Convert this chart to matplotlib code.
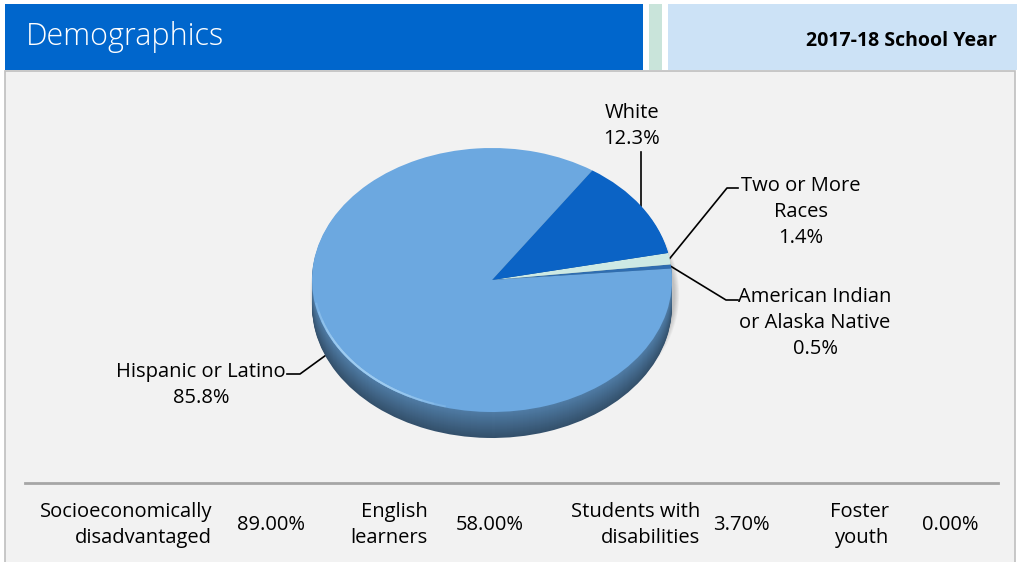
import numpy as np
import matplotlib
matplotlib.use('Agg')
from matplotlib import pyplot as plt
from matplotlib.patches import Rectangle, Ellipse, Arc
from matplotlib.colors import to_rgb

plt.rcParams['font.family'] = ['Open Sans', 'DejaVu Sans']

# data
categories = ['American Indian\nor Alaska Native', 'Two or More\nRaces', 'White', 'Hispanic or Latino']
values = [0.5, 1.4, 12.3, 85.8]
colours = ['#2F6DB0', '#CDE9E4', '#0B63C5', '#6CA8E0']
stat_labels = ['Socioeconomically\ndisadvantaged', 'English\nlearners', 'Students with\ndisabilities', 'Foster\nyouth']
stat_values = [89.00, 58.00, 3.70, 0.00]
title = 'Demographics'
year = '2017-18 School Year'

W, H = 1017, 562
fig = plt.figure(figsize=(W/100, H/100), dpi=100)
fig.patch.set_facecolor('white')

# background axes in pixel units
bg = fig.add_axes([0, 0, 1, 1])
bg.set_xlim(0, W)
bg.set_ylim(H, 0)
bg.axis('off')

bg.add_patch(Rectangle((5, 71), 1010, 500, facecolor='#F2F2F2', edgecolor='#BFBFBF', lw=1.2))
bg.add_patch(Rectangle((5, 4), 638, 66, facecolor='#0066CC', lw=0))
bg.add_patch(Rectangle((649, 4), 13, 66, facecolor='#C9E4DA', lw=0))
bg.add_patch(Rectangle((668, 4), 349, 66, facecolor='#CCE2F6', lw=0))
bg.text(26, 37, title, color='white', fontsize=22, fontweight='light', va='center', ha='left')
bg.text(997, 41, year, color='black', fontsize=14, fontweight='bold', va='center', ha='right')
bg.plot([25, 998], [483, 483], color='#A6A6A6', lw=2)

# bottom stats row
lab_right = [212, 428, 700, 889]
val_center = [271, 490, 741, 950]
for lab, v, xr, xc in zip(stat_labels, stat_values, lab_right, val_center):
    bg.text(xr, 525, lab, ha='right', va='center', multialignment='right', fontsize=14.5, linespacing=1.35)
    bg.text(xc, 525, '%.2f%%' % v, ha='center', va='center', fontsize=14.5)

# pie (top face ellipse: x 312..672, y 148..412)
cx, cy, rx, ry = 492, 280, 180, 132
ax = fig.add_axes([(cx-rx)/W, 1-(cy+ry)/H, 2*rx/W, 2*ry/H])
ax.patch.set_alpha(0)

start = 5
depth = 26 / ry
nlay = 26

# soft shadow
for k in range(6):
    ax.add_patch(Ellipse((0.015, -0.11), 2.0 + 0.01*k, 2.0 + 0.018*k, facecolor='black',
                         alpha=0.035, lw=0, clip_on=False, zorder=0))

for k in range(nlay, 0, -1):
    f = 0.74 - 0.26 * k / nlay
    cols = [tuple(c*f for c in to_rgb(col)) for col in colours]
    w, _ = ax.pie(values, colors=cols, startangle=start, counterclock=True,
                  center=(0, -depth*k/nlay), wedgeprops={'lw': 0, 'clip_on': False})

wedges, _ = ax.pie(values, colors=colours, startangle=start, counterclock=True,
                   wedgeprops={'lw': 0, 'clip_on': False})
for k in range(6):
    ax.add_patch(Arc((0, 0), 1.985, 1.985, theta1=190 + 4*k, theta2=255 - 4*k, color='#A9D4F5',
                     lw=1.5, alpha=0.25, clip_on=False))
ax.set_aspect('auto')
ax.set_xlim(-1, 1)
ax.set_ylim(-1, 1)
ax.axis('off')

# labels with leader lines (anchor from wedge mid-angle)
text_pos = [(815, 323), (801, 212), (632, 126), (201, 385)]
elbows = [[(726, 300), (738, 300)], [(727, 188), (738, 188)], None, [(300, 374), (287, 374)]]
cum = np.cumsum([0] + values)
to_px = ax.transData + bg.transData.inverted()
for i, (cat, v) in enumerate(zip(categories, values)):
    mid = np.deg2rad(start + 3.6*(cum[i] + v/2))
    axp, ayp = to_px.transform((np.cos(mid), np.sin(mid)))
    if elbows[i] is None:
        xs, ys = [axp, axp], [ayp, 152]
    else:
        xs = [axp] + [p[0] for p in elbows[i]]
        ys = [ayp] + [p[1] for p in elbows[i]]
    bg.plot(xs, ys, color='black', lw=1.2, zorder=5)
    bg.text(text_pos[i][0], text_pos[i][1], '%s\n%.1f%%' % (cat, v), ha='center', va='center',
            fontsize=14.5, linespacing=1.4, zorder=5)

plt.savefig('out.png', dpi=100)
